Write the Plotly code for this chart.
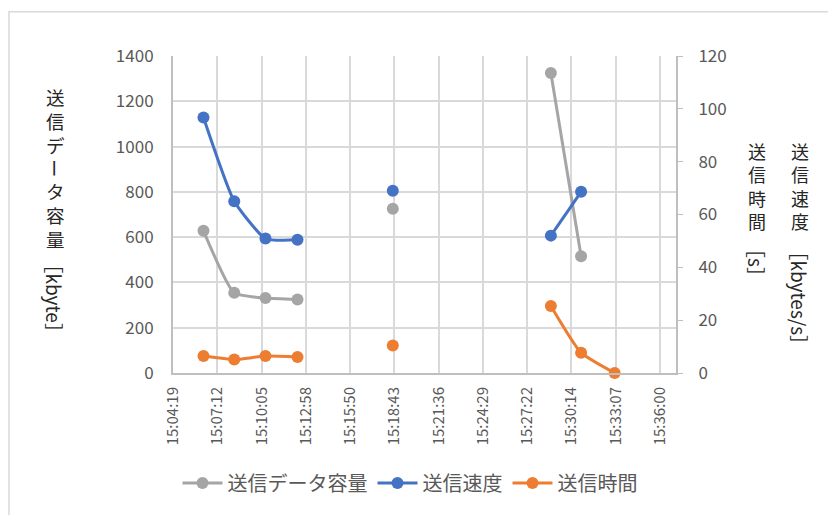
import plotly.graph_objects as go

# Measurement log (blank rows break the lines between sessions)
times = ["15:06:18", "15:08:18", "15:10:20", "15:12:25", "15:15:30",
         "15:18:37", "15:23:00", "15:28:54", "15:30:52", "15:33:03"]
data_volume = [628, 354, 331, 325, None, 725, None, 1325, 516, None]      # kbyte
send_speed = [96.7, 65.0, 50.9, 50.4, None, 69.0, None, 52.0, 68.6, None]  # kbytes/s
send_time = [6.4, 5.1, 6.4, 6.1, None, 10.4, None, 25.4, 7.7, 0]          # s

x_tick_labels = ["15:04:19", "15:07:12", "15:10:05", "15:12:58", "15:15:50", "15:18:43",
                 "15:21:36", "15:24:29", "15:27:22", "15:30:14", "15:33:07", "15:36:00"]
left_ticks = [0, 200, 400, 600, 800, 1000, 1200, 1400]
right_ticks = [0, 20, 40, 60, 80, 100, 120]


def to_sec(s):
    h, m, sec = (int(v) for v in s.split(":"))
    return h * 3600 + m * 60 + sec


xs = [to_sec(t) for t in times]
tickvals = [to_sec(t) for t in x_tick_labels]

W, H = 828, 515
L, R, T, B = 173, 676, 56, 379


def px(x):
    return (x - L) / (R - L)


def py(y):
    return (B - y) / (B - T)


GRAY = "#A5A5A5"
BLUE = "#4472C4"
ORANGE = "#ED7D31"
FONT = "Noto Sans CJK JP"
TICK_COLOR = "#595959"
TITLE_COLOR = "#262626"
GRID = "#D9D9D9"

fig = go.Figure()
common = dict(mode="lines+markers", line_shape="spline", connectgaps=False, cliponaxis=False)
fig.add_trace(go.Scatter(x=xs, y=data_volume, name="送信データ容量", yaxis="y",
                         line=dict(color=GRAY, width=3, smoothing=0.5),
                         marker=dict(color=GRAY, size=12), **common))
fig.add_trace(go.Scatter(x=xs, y=send_speed, name="送信速度", yaxis="y2",
                         line=dict(color=BLUE, width=3, smoothing=0.5),
                         marker=dict(color=BLUE, size=12), **common))
fig.add_trace(go.Scatter(x=xs, y=send_time, name="送信時間", yaxis="y2",
                         line=dict(color=ORANGE, width=3, smoothing=0.5),
                         marker=dict(color=ORANGE, size=12), **common))

x_per_px = (tickvals[-1] - tickvals[0]) / (660 - L)

fig.update_layout(
    width=W, height=H,
    margin=dict(l=L, r=W - R, t=T, b=H - B),
    paper_bgcolor="white", plot_bgcolor="white",
    font=dict(family=FONT, color=TICK_COLOR),
    xaxis=dict(range=[tickvals[0], tickvals[0] + (R - L) * x_per_px],
               tickvals=tickvals, ticktext=x_tick_labels, tickangle=-90,
               tickfont=dict(size=15, color=TICK_COLOR), showgrid=True, gridcolor=GRID,
               gridwidth=2, showline=True, linecolor="#BFBFBF", linewidth=2,
               zeroline=False, ticks="", ticklabelstandoff=6),
    yaxis=dict(range=[0, 1400], tickvals=left_ticks, tickfont=dict(size=17, color=TICK_COLOR),
               showgrid=True, gridcolor=GRID, gridwidth=2, showline=True,
               linecolor="#BFBFBF", linewidth=2, zeroline=False, ticklabelstandoff=14),
    yaxis2=dict(range=[0, 120], tickvals=right_ticks, overlaying="y", side="right",
                tickfont=dict(size=17, color=TICK_COLOR), showgrid=False, showline=True,
                linecolor="#BFBFBF", linewidth=2, ticks="outside", ticklen=5,
                tickcolor="#BFBFBF", zeroline=False, ticklabelstandoff=12),
    legend=dict(orientation="h", x=px(410), xanchor="center", y=py(491), yanchor="middle",
                font=dict(size=20, color=TICK_COLOR), itemwidth=40, bgcolor="rgba(0,0,0,0)"),
    showlegend=True,
)

# Outer chart border
fig.add_shape(type="rect", xref="paper", yref="paper",
              x0=px(9), x1=px(840), y0=py(530), y1=py(11),
              line=dict(color="#D9D9D9", width=1.5), fillcolor="rgba(0,0,0,0)", layer="below")


def stacked(chars, x, y_center, size):
    """Upright CJK glyphs stacked top to bottom in one text block."""
    fig.add_annotation(text="<br>".join(chars), xref="paper", yref="paper",
                       x=px(x), y=py(y_center), showarrow=False, align="center",
                       font=dict(size=size, color=TITLE_COLOR, family=FONT),
                       xanchor="center", yanchor="middle")


def rotated(text, x, y_center, size):
    fig.add_annotation(text=text, xref="paper", yref="paper", x=px(x), y=py(y_center),
                       showarrow=False, textangle=90,
                       font=dict(size=size, color=TITLE_COLOR, family=FONT),
                       xanchor="center", yanchor="middle")


# Left axis title: 送信データ容量［kbyte］ written vertically
stacked("送信デ", 55, 122, 18.5)
rotated("ー", 55, 170, 18.5)
stacked("タ容量", 55, 218, 18.5)
rotated("［kbyte］", 55, 302, 19)

# Right axis titles
stacked("送信", 757, 165, 18)
stacked("時間", 757, 212, 18)
rotated("［s］", 757, 266, 19)
stacked("送信", 800, 165, 18)
stacked("速度", 800, 212, 18)
rotated("［kbytes/s］", 800, 302, 19)

fig.write_html("out.html")
